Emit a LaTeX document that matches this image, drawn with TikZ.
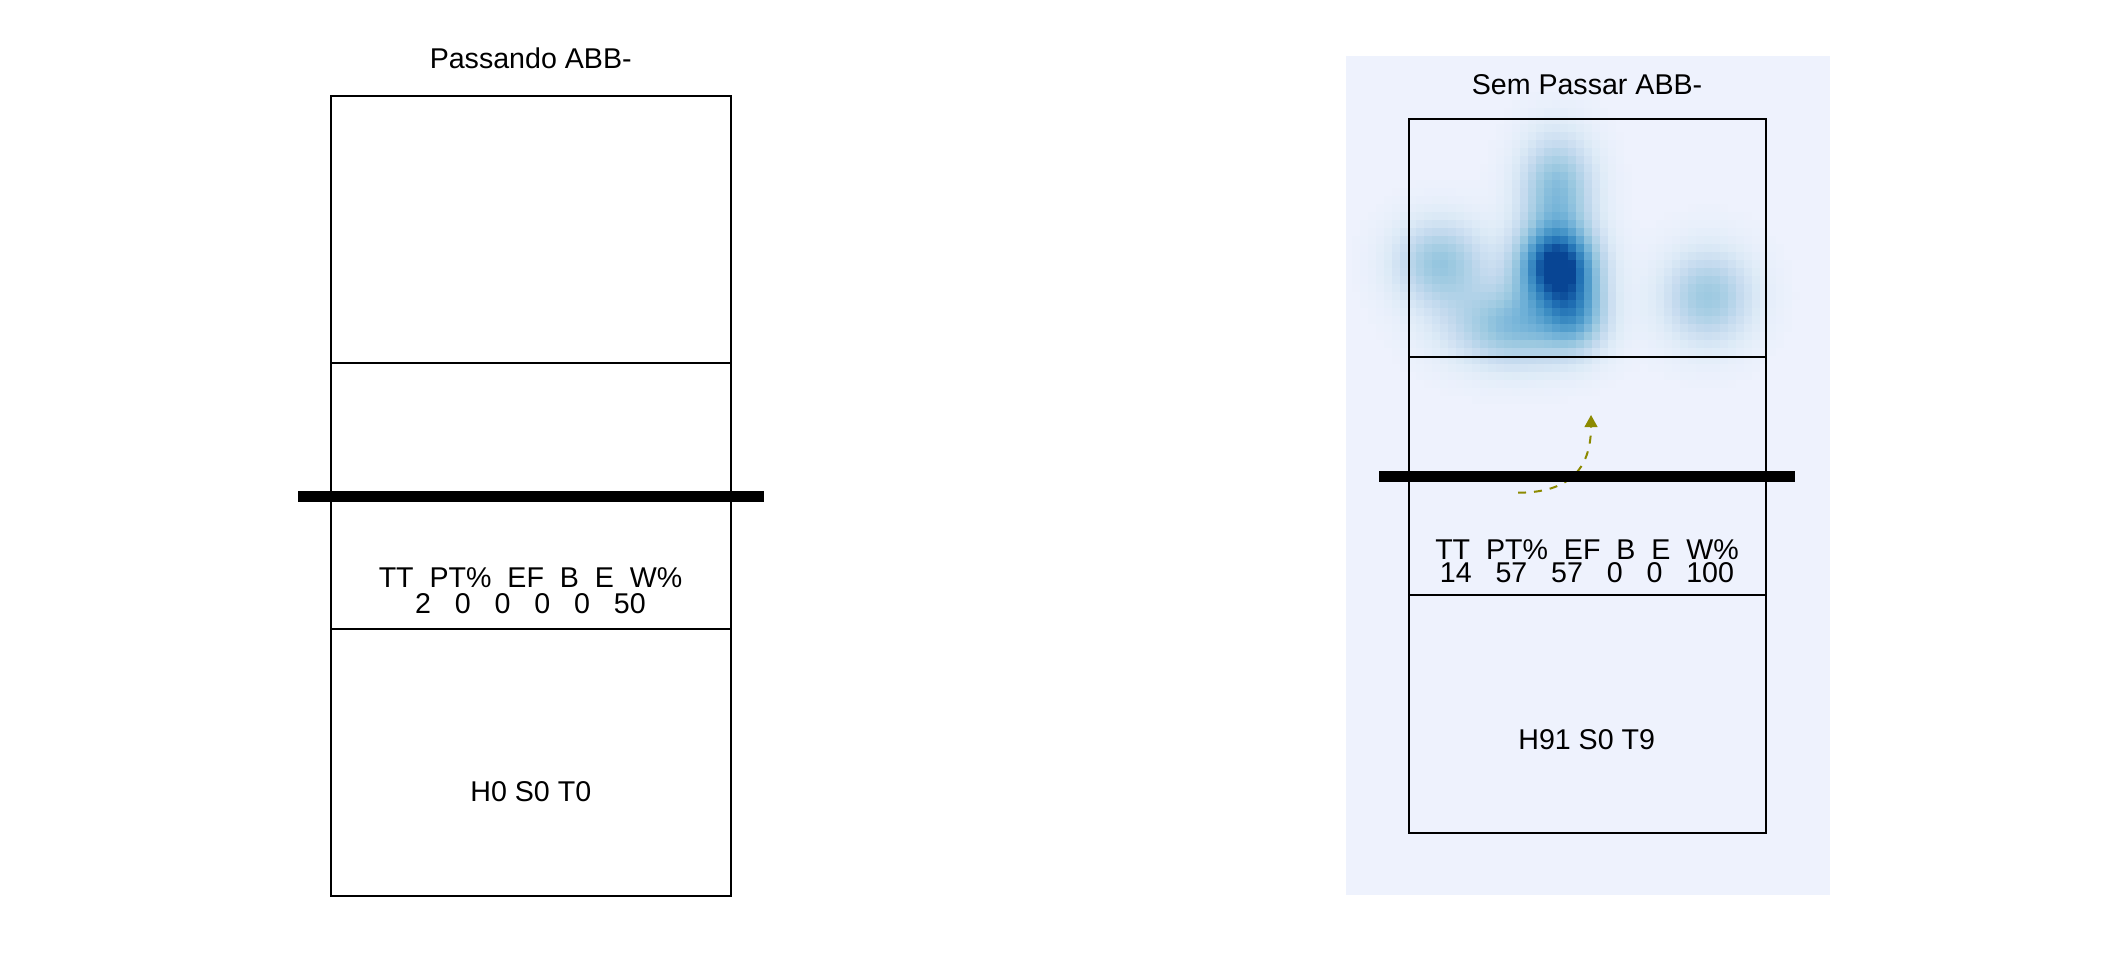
\documentclass[tikz,border=0pt]{standalone}
\usepackage{fontspec}
\setmainfont{Liberation Sans}
\usetikzlibrary{arrows.meta}
\definecolor{panelbg}{RGB}{238,242,253}
\definecolor{hbA}{RGB}{222,235,247}
\definecolor{hbB}{RGB}{198,219,239}
\definecolor{hbC}{RGB}{158,202,225}
\definecolor{hbD}{RGB}{107,174,214}
\definecolor{hbE}{RGB}{66,146,198}
\definecolor{hbF}{RGB}{33,113,181}
\definecolor{hbG}{RGB}{8,69,148}
\definecolor{arrowol}{RGB}{140,138,0}
\newcommand\hmmix[4]{%
  \edef\hmpp{\the\numexpr 100*(\hmk-#1)/(#2-#1)\relax}%
  \colorlet{hmc}{#4!\hmpp!#3}}
\newcommand\hmcolor{%
  \ifnum\hmk<100 \hmmix{0}{100}{panelbg}{hbA}\else
  \ifnum\hmk<220 \hmmix{100}{220}{hbA}{hbB}\else
  \ifnum\hmk<380 \hmmix{220}{380}{hbB}{hbC}\else
  \ifnum\hmk<550 \hmmix{380}{550}{hbC}{hbD}\else
  \ifnum\hmk<700 \hmmix{550}{700}{hbD}{hbE}\else
  \ifnum\hmk<850 \hmmix{700}{850}{hbE}{hbF}\else
  \hmmix{850}{1001}{hbF}{hbG}\fi\fi\fi\fi\fi\fi}
\tikzset{
  txt/.style={font=\fontsize{28.6}{30}\selectfont, inner sep=0pt, anchor=base},
  courtline/.style={line width=2pt, black},
  netline/.style={line width=10.7pt, black, line cap=butt},
  attackarrow/.style={draw=arrowol, line width=2pt, dash pattern=on 8pt off 8pt,
    -{Triangle[length=12pt,width=12.7pt,fill=arrowol]}}
}
\begin{document}
\begin{tikzpicture}[x=1pt,y=-1pt]
\useasboundingbox (0,0) rectangle (2112,960);
\fill[white] (0,0) rectangle (2112,960);
% ---------- left court ----------
\node[txt] (ltitle) at (530.7,68.3) {Passando ABB-};
\draw[courtline] (330.7,95.7) rectangle (730.7,895.7);
\draw[courtline] (330.7,362.7) -- (730.7,362.7);
\draw[courtline] (330.7,628.7) -- (730.7,628.7);
\draw[netline] (298,496.3) -- (764,496.3);
\node[txt] (lstat1) at (530.5,587.3) {TT\ \ PT\%\ \ EF\ \ B\ \ E\ \ W\%};
\node[txt] (lstat2) at (530.5,613.3) {2\ \ \ 0\ \ \ 0\ \ \ 0\ \ \ 0\ \ \ 50};
\node[txt] (lhst) at (530.8,801.7) {H0 S0 T0};
% ---------- right panel ----------
\fill[panelbg] (1346,56) rectangle (1830,895);
\begin{scope}
\clip (1346,56) rectangle (1830,895);
\foreach \cx in {1356,1364,...,1796}{
  \foreach \cy in {96,104,...,420}{
    \edef\hmk{\fpeval{round(1000*min(1,
      1.00*exp(-0.5*(((\cx-1557)/27)^2+((\cy-266)/27)^2))
     +0.46*exp(-0.5*(((\cx-1557)/26)^2+((\cy-190)/38)^2))
     +0.40*exp(-0.5*(((\cx-1440)/32)^2+((\cy-263)/30)^2))
     +0.46*exp(-0.5*(((\cx-1515)/46)^2+((\cy-326)/28)^2))
     +0.38*exp(-0.5*(((\cx-1708)/32)^2+((\cy-297)/33)^2))
     +0.42*exp(-0.5*(((\cx-1576)/22)^2+((\cy-314)/26)^2))
    ))}}%
    \ifnum\hmk>8 \hmcolor\fill[hmc] (\cx-4.2,\cy-4.2) rectangle (\cx+4.2,\cy+4.2);\fi
  }}
\end{scope}
\node[txt] (rtitle) at (1587,95) {Sem Passar ABB-};
\draw[courtline] (1408.7,119) rectangle (1766,832.7);
\draw[courtline] (1408.7,356.7) -- (1766,356.7);
\draw[courtline] (1408.7,595) -- (1766,595);
\coordinate (arrS) at (1518,492.7);
\coordinate (arrE) at (1591,415);
\draw[attackarrow] (arrS) .. controls (1568,492.7) and (1591,470) .. (arrE);
\draw[netline] (1379,476.3) -- (1795,476.3);
\node[txt] (rstat1) at (1587,559) {TT\ \ PT\%\ \ EF\ \ B\ \ E\ \ W\%};
\node[txt] (rstat2) at (1587,582.3) {14\ \ \ 57\ \ \ 57\ \ \ 0\ \ \ 0\ \ \ 100};
\node[txt] (rhst) at (1586.7,749.3) {H91 S0 T9};
\end{tikzpicture}
\end{document}
